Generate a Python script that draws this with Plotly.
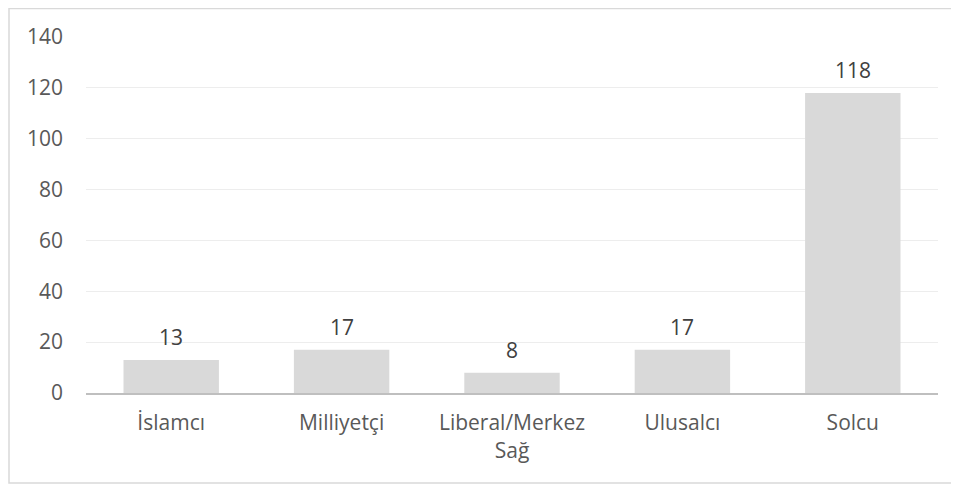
import plotly.graph_objects as go

categories = ["İslamcı", "Milliyetçi", "Liberal/Merkez<br>Sağ", "Ulusalcı", "Solcu"]
values = [13, 17, 8, 17, 118]
y_ticks = [0, 20, 40, 60, 80, 100, 120, 140]

FS = 21
fig = go.Figure(go.Bar(
    x=categories, y=values,
    marker=dict(color="#D9D9D9", line=dict(width=0)),
    width=0.56, hoverinfo="x+y",
))

for c, v in zip(categories, values):
    fig.add_annotation(x=c, y=v, text=str(v), showarrow=False, yanchor="bottom",
                       yshift=7, font=dict(family="Open Sans", size=FS, color="#404040"))

PW, PH = 852, 356
L, T = 78, 29
fig.update_layout(
    width=959, height=484,
    margin=dict(l=L, r=959 - L - PW, t=T, b=484 - T - PH),
    paper_bgcolor="white", plot_bgcolor="white",
    showlegend=False,
    font=dict(family="Open Sans", size=FS, color="#595959"),
    xaxis=dict(showgrid=False, showline=True, linecolor="#BFBFBF", linewidth=2,
               ticks="", ticklabelstandoff=10, tickfont=dict(size=FS, color="#595959")),
    yaxis=dict(range=[0, 140], tickvals=y_ticks, showgrid=True, gridcolor="#EDEDED",
               gridwidth=1, zeroline=False, showline=False, ticks="",
               ticklabelstandoff=22, tickfont=dict(size=FS, color="#595959")),
    bargap=0.44,
    shapes=[dict(type="rect", xref="paper", yref="paper",
                 x0=(1 - L) / PW, x1=(949 - L) / PW,
                 y0=-(475 - T - PH) / PH, y1=1 + (T - 0.5) / PH,
                 line=dict(color="#D9D9D9", width=1.5), layer="below")],
)

fig.write_html("out.html")
